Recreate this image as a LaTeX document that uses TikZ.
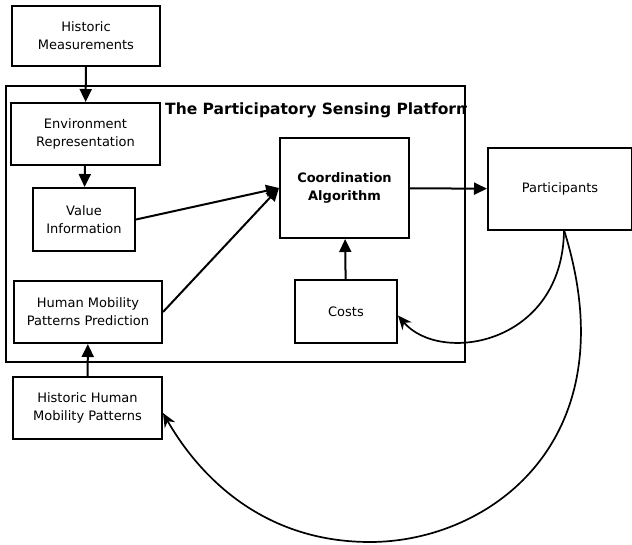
\documentclass[tikz,border=0pt]{standalone}
\usepackage{fontspec}
\setmainfont{DejaVu Sans}
\usetikzlibrary{arrows.meta}
\begin{document}
\begin{tikzpicture}[
                    x=1pt, y=-1pt,
                    >={Triangle[length=13pt,width=12pt]},
                    block/.style={draw, rectangle, line width=2pt, inner sep=0pt, align=center,
                                  font=\fontsize{13}{18}\selectfont}
                    ]
        \useasboundingbox (0,0) rectangle (632,544);

        \node [draw, rectangle, line width=2pt, minimum width=459pt, minimum height=276pt] (platform) at (235.5,224) {};
        \begin{scope}
            \clip (platform.north west) rectangle (platform.south east);
            \node [anchor=west, inner sep=0pt, font=\fontsize{15.5}{18}\selectfont\bfseries] (title) at (165,110) {The Participatory Sensing Platform};
        \end{scope}

        \node [block, minimum width=148pt, minimum height=60pt] (hist) at (86,36) {Historic\\Measurements};
        \node [block, minimum width=149pt, minimum height=62pt] (env) at (85.5,134) {Environment\\Representation};
        \node [block, minimum width=102pt, minimum height=63pt] (value) at (84,219.5) {Value\\Information};
        \node [block, minimum width=148pt, minimum height=62pt] (mobpred) at (88,312) {Human Mobility\\Patterns Prediction};
        \node [block, minimum width=129pt, minimum height=100pt, font=\fontsize{13}{18}\selectfont\bfseries] (coord) at (344.5,188) {Coordination\\Algorithm};
        \node [block, minimum width=102pt, minimum height=63pt] (costs) at (346,311.5) {Costs};
        \node [block, minimum width=144pt, minimum height=82pt] (part) at (560,189) {Participants};
        \node [block, minimum width=149pt, minimum height=62pt] (histmob) at (87.5,408) {Historic Human\\Mobility Patterns};

        \draw[line width=2pt, ->] (hist) -- (env);
        \draw[line width=2pt, ->] (env) -- (value);
        \draw[line width=2pt, ->] (value.east) -- (coord.west);
        \draw[line width=2pt, ->] (mobpred.east) -- (coord.west);
        \draw[line width=2pt, ->] (costs) -- (coord);
        \draw[line width=2pt, ->] (coord) -- (part);
        \draw[line width=2pt, ->] (histmob) -- (mobpred);

        \coordinate (partout) at (564,230);
        \draw[line width=1.7pt, -{Stealth[length=14pt,width=12pt]}] (partout) .. controls (563,345) and (440,365) .. ([yshift=-4pt]costs.east);
        \draw[line width=1.7pt, -{Stealth[length=14pt,width=12pt]}] (partout) .. controls (630,440) and (490,542) .. (370,542)
            .. controls (250,542) and (190,460) .. ([yshift=-5pt]histmob.east);
\end{tikzpicture}
\end{document}
